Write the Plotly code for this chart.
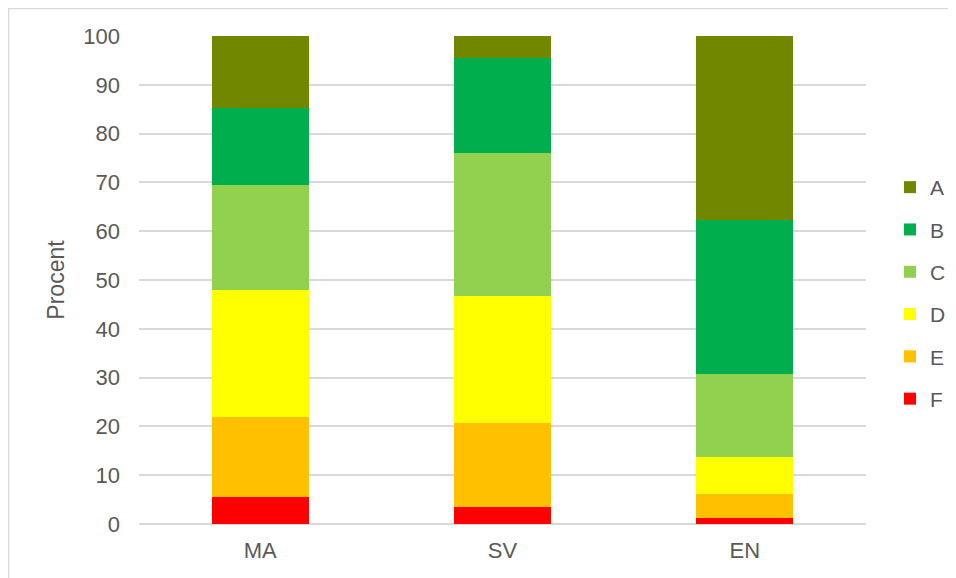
import plotly.graph_objects as go

categories = ["MA", "SV", "EN"]
grades = ["F", "E", "D", "C", "B", "A"]
values_F = [5.5, 3.4, 1.2]
values_E = [16.5, 17.3, 5.0]
values_D = [26.0, 26.0, 7.6]
values_C = [21.5, 29.3, 16.9]
values_B = [15.7, 19.4, 31.5]
values_A = [14.8, 4.6, 37.8]
series = [values_F, values_E, values_D, values_C, values_B, values_A]
colors = ["#FF0000", "#FFC000", "#FFFF00", "#92D050", "#00AE4D", "#728700"]
y_ticks = [0, 10, 20, 30, 40, 50, 60, 70, 80, 90, 100]

FONT = "Liberation Sans, Arial, sans-serif"
TXT = "#595959"

fig = go.Figure()
for i, (g, vals, c) in enumerate(zip(grades, series, colors)):
    fig.add_trace(go.Bar(
        x=categories, y=vals, name=g, legendgroup=g,
        legendrank=len(grades) - i,
        marker=dict(color=c, line=dict(width=0)),
    ))

# page body has an 8px margin, so the figure is 8px smaller
W, H = 948, 570
L, R, T, B = 131, 90, 28, 54
pw, ph = W - L - R, H - T - B

fig.update_layout(
    width=W, height=H,
    margin=dict(l=L, r=R, t=T, b=B, autoexpand=False),
    barmode="stack", bargap=0.6,
    paper_bgcolor="white", plot_bgcolor="white",
    font=dict(family=FONT, color=TXT),
    showlegend=True,
    legend=dict(
        traceorder="grouped", tracegroupgap=12,
        x=(882 - L) / pw, xanchor="left",
        y=(H - B - 159) / ph, yanchor="top",
        font=dict(size=21, color=TXT, family=FONT),
        bgcolor="rgba(0,0,0,0)",
    ),
    xaxis=dict(
        showgrid=False, showline=False, zeroline=False,
        tickfont=dict(size=22, color=TXT, family=FONT),
        ticks="", ticklabelstandoff=11,
    ),
    yaxis=dict(
        range=[0, 100], tickvals=y_ticks,
        showgrid=True, gridcolor="#d9d9d9", gridwidth=1.5,
        zeroline=True, zerolinecolor="#d9d9d9", zerolinewidth=1.5,
        showline=False, ticks="",
        tickfont=dict(size=22, color=TXT, family=FONT),
        ticklabelstandoff=18,
        title=dict(text="Procent", font=dict(size=23, color=TXT, family=FONT), standoff=12),
    ),
    shapes=[dict(
        type="rect", xref="paper", yref="paper",
        x0=(0.5 - L) / pw, x1=(W + 20 - L) / pw,
        y0=(H - B - (H + 20)) / ph, y1=(H - B - 0.5) / ph,
        line=dict(color="#d9d9d9", width=1.5), fillcolor="rgba(0,0,0,0)",
        layer="below",
    )],
)

fig.write_html("out.html")
